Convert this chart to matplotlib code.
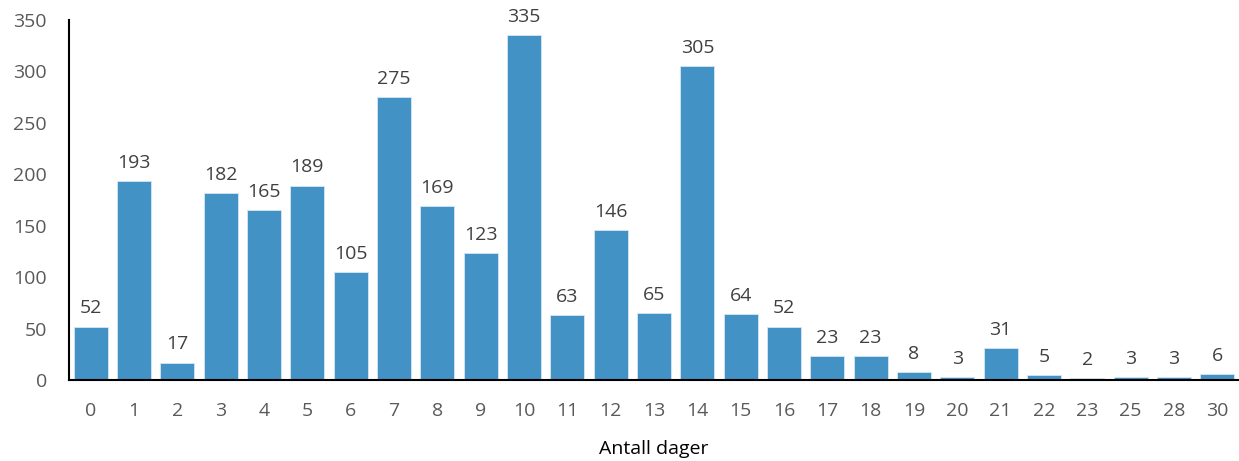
import numpy as np
from matplotlib import pyplot as plt

days = ['0', '1', '2', '3', '4', '5', '6', '7', '8', '9', '10', '11', '12', '13', '14',
        '15', '16', '17', '18', '19', '20', '21', '22', '23', '25', '28', '30']
counts = [52, 193, 17, 182, 165, 189, 105, 275, 169, 123, 335, 63, 146, 65, 305,
          64, 52, 23, 23, 8, 3, 31, 5, 2, 3, 3, 6]

plt.rcParams['font.family'] = ['Open Sans', 'DejaVu Sans']

fig = plt.figure(figsize=(12.39, 4.61), dpi=100)
ax = fig.add_axes([69/1239, 81/461, 1170/1239, 360/461])

x = np.arange(len(days))
ax.bar(x, counts, width=0.78, color='#4292c6', edgecolor='#d6e6f3', linewidth=0.6)
for xi, v in zip(x, counts):
    ax.text(xi, v + 9, str(v), ha='center', va='bottom', fontsize=14, color='#404040')

ax.set_xlim(-0.5, len(days) - 0.5)
ax.set_ylim(0, 350)
ax.set_yticks(range(0, 351, 50))
ax.set_xticks(x)
ax.set_xticklabels(days)
ax.tick_params(length=0, labelsize=14, colors='#595959', pad=16)
ax.tick_params(axis='y', pad=16)
for s in ['top', 'right']:
    ax.spines[s].set_visible(False)
ax.spines['left'].set_linewidth(1.5)
ax.spines['bottom'].set_linewidth(1.5)
ax.set_xlabel('Antall dager', fontsize=14, color='#000000', labelpad=14)

fig.savefig('out.png', dpi=100)
